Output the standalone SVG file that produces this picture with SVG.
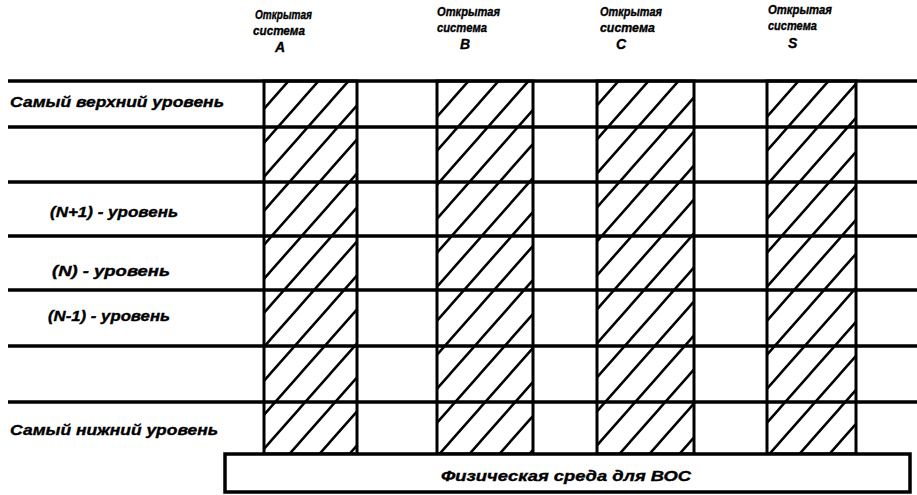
<svg xmlns="http://www.w3.org/2000/svg" width="917" height="495" viewBox="0 0 917 495">
<defs>
<pattern id="hatch" patternUnits="userSpaceOnUse" width="30" height="34">
<path d="M0,34 L30,0 M-3,3.4 L3,-3.4 M27,37.4 L33,30.6" stroke="#000" stroke-width="2.5" fill="none"/>
</pattern>
</defs>
<style>
.t{font-family:"Liberation Sans","DejaVu Sans",sans-serif;font-weight:bold;font-style:italic;font-size:14px;fill:#000;stroke:#000;stroke-width:0.35}
.h{font-size:13px}
.k{font-size:14px}
.line{stroke:#000;stroke-width:3.5}
.col{fill:url(#hatch);stroke:#000;stroke-width:3}
.box{fill:#fff;stroke:#000;stroke-width:3.5}
</style>
<rect width="917" height="495" fill="#fff"/>
<g id="sys-A">
<rect class="col" x="264" y="81" width="93" height="373"/>
<text class="t h" x="255" y="19" textLength="57" lengthAdjust="spacingAndGlyphs">Открытая</text>
<text class="t h" x="253" y="35" textLength="52" lengthAdjust="spacingAndGlyphs">система</text>
<text class="t k" x="275" y="52">A</text>
</g>
<g id="sys-B">
<rect class="col" x="437" y="81" width="96" height="373"/>
<text class="t h" x="437" y="16" textLength="63" lengthAdjust="spacingAndGlyphs">Открытая</text>
<text class="t h" x="437" y="32" textLength="50" lengthAdjust="spacingAndGlyphs">система</text>
<text class="t k" x="460" y="49">B</text>
</g>
<g id="sys-C">
<rect class="col" x="597" y="81" width="97" height="373"/>
<text class="t h" x="600" y="16" textLength="62" lengthAdjust="spacingAndGlyphs">Открытая</text>
<text class="t h" x="600" y="32" textLength="55" lengthAdjust="spacingAndGlyphs">система</text>
<text class="t k" x="616" y="49">C</text>
</g>
<g id="sys-S">
<rect class="col" x="767" y="81" width="89" height="373"/>
<text class="t h" x="768" y="14" textLength="64" lengthAdjust="spacingAndGlyphs">Открытая</text>
<text class="t h" x="768" y="30" textLength="49" lengthAdjust="spacingAndGlyphs">система</text>
<text class="t k" x="788" y="48">S</text>
</g>
<g id="layers">
<line class="line" x1="8" y1="81" x2="917" y2="81"/>
<line class="line" x1="8" y1="127" x2="917" y2="127"/>
<line class="line" x1="8" y1="182" x2="917" y2="182"/>
<line class="line" x1="8" y1="236" x2="917" y2="236"/>
<line class="line" x1="8" y1="290" x2="917" y2="290"/>
<line class="line" x1="8" y1="346" x2="917" y2="346"/>
<line class="line" x1="8" y1="402" x2="917" y2="402"/>
</g>
<g id="layer-labels">
<text class="t" x="10" y="107" textLength="214" lengthAdjust="spacingAndGlyphs">Самый верхний уровень</text>
<text class="t" x="50" y="217" textLength="128" lengthAdjust="spacingAndGlyphs">(N+1) - уровень</text>
<text class="t" x="52" y="276" textLength="118" lengthAdjust="spacingAndGlyphs">(N) - уровень</text>
<text class="t" x="48" y="321" textLength="122" lengthAdjust="spacingAndGlyphs">(N-1) - уровень</text>
<text class="t" x="10" y="435" textLength="208" lengthAdjust="spacingAndGlyphs">Самый нижний уровень</text>
</g>
<g id="physical-medium">
<rect class="box" x="225" y="454" width="685" height="38"/>
<text class="t" x="441" y="481" textLength="250" lengthAdjust="spacingAndGlyphs">Физическая среда для ВОС</text>
</g>
<g id="connectors"></g>
</svg>
